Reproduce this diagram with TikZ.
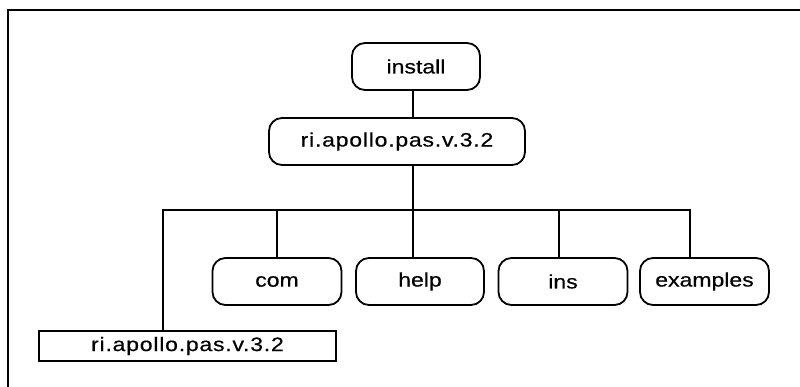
\documentclass[tikz,border=0pt]{standalone}
\usepackage{fontspec}
\setmainfont{Liberation Sans}[FakeStretch=1.18,FakeBold=0.5]
\begin{document}
\begin{tikzpicture}[x=1pt,y=-1pt,
  dirbox/.style={draw, line width=1.8pt, rounded corners=13pt, minimum height=47pt, inner sep=0pt, font=\fontsize{19.5}{21}\selectfont},
  filebox/.style={draw, line width=1.5pt, minimum height=30pt, inner sep=0pt, font=\fontsize{19.5}{21}\selectfont\addfontfeature{LetterSpace=4}},
  link/.style={line width=1.5pt}]
\useasboundingbox (0,0) rectangle (800,387);
\draw[line width=1.8pt] (800,10) -- (8,10) -- (8,387);
\node[dirbox, minimum width=128pt] (install) at (416,66.5) {install};
\node[dirbox, minimum width=256pt] (ri1) at (397,141.5) {\addfontfeature{LetterSpace=4}ri.apollo.pas.v.3.2};
\node[dirbox, minimum width=129pt] (com) at (277,281.5) {com};
\node[dirbox, minimum width=128pt] (help) at (420,281.5) {help};
\node[dirbox, minimum width=129pt] (ins) at (563,281.5) {ins};
\node[dirbox, minimum width=129pt] (examples) at (704.5,281.5) {examples};
\node[filebox, minimum width=297pt] (ri2) at (187.5,346) {ri.apollo.pas.v.3.2};
\coordinate (hub) at (413,210);
\coordinate (busL) at (163,210);
\coordinate (busR) at (690,210);
\draw[link] (install.south -| hub) -- (ri1.north -| hub);
\draw[link] (ri1.south -| hub) -- (hub);
\draw[link] (ri2.north -| busL) -- (busL) -- (busR) -- (examples.north -| busR);
\draw[link] (com.north) -- (com.north |- hub);
\draw[link] (help.north -| hub) -- (hub);
\draw[link] ([xshift=-4pt]ins.north) -- ([xshift=-4pt]ins.north |- hub);
\end{tikzpicture}
\end{document}
